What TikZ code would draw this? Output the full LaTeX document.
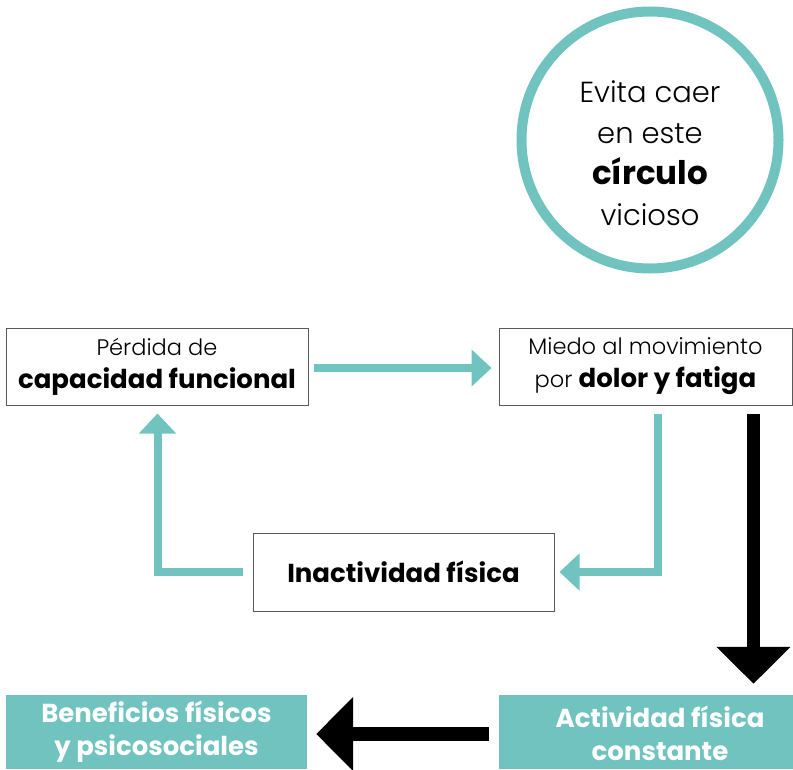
\documentclass[tikz,border=0pt]{standalone}
\usepackage{fontspec}
\setmainfont{Poppins}[UprightFont={* Light},BoldFont={* Bold}]
\usetikzlibrary{arrows.meta}
\definecolor{teal1}{HTML}{70C3BF}
\newcommand{\hvy}[1]{{\bfseries\fontsize{26}{33}\selectfont #1}}
\begin{document}
\begin{tikzpicture}[x=1pt,y=-1pt,
  plainbox/.style={draw=black!65, line width=1pt, fill=white, inner sep=0pt, align=center, font=\fontsize{22.5}{33}\selectfont},
  tealbox/.style={fill=teal1, inner sep=0pt, text=white, align=center, font=\bfseries\fontsize{26}{33}\selectfont},
  tealarrow/.style={draw=teal1, line width=8pt, line join=miter, -{Triangle[width=36pt,length=20pt]}},
  blackarrow/.style={draw=black, line width=13.5pt, -{Triangle[width=72pt,length=37pt]}},
]
\useasboundingbox (0,0) rectangle (793,769);
% circle
\node[circle, draw=teal1, line width=10pt, minimum size=257pt, inner sep=0pt] (circ) at (650,140) {};
\node[align=center, font=\fontsize{29}{41}\selectfont] (ctext) at (650,153) {Evita caer\\en este\\{\bfseries\fontsize{32.5}{41}\selectfont círculo}\\vicioso};
% boxes
\node[plainbox, minimum width=302pt, minimum height=77pt] (b1) at (157,366.5) {Pérdida de\\\hvy{capacidad funcional}};
\node[plainbox, minimum width=293pt, minimum height=77pt] (b2) at (645.5,366.5) {Miedo al movimiento\\por \hvy{dolor y fatiga}};
\node[plainbox, minimum width=301pt, minimum height=78pt] (b3) at (403.5,572) {\hvy{Inactividad física}};
\node[tealbox, minimum width=294pt, minimum height=74pt] (act) at (646,732) {};
\node[tealbox, anchor=center] (acttext) at (660,733) {Actividad física\\constante};
\node[tealbox, minimum width=301pt, minimum height=74pt] (ben) at (156.5,732) {Beneficios físicos\\y psicosociales};
% arrows
\draw[tealarrow] ([xshift=5pt,yshift=-1.5pt]b1.east) -- ([xshift=-7pt,yshift=-1.5pt]b2.west);
\draw[tealarrow] ([xshift=-10pt]b3.west) -| ([xshift=0.5pt,yshift=-8pt]b1.south);
\draw[tealarrow] ([xshift=12pt,yshift=-8pt]b2.south) |- ([xshift=5pt]b3.east);
\coordinate (bs) at ([xshift=108pt,yshift=-8pt]b2.south);
\draw[blackarrow, shorten >=11pt] (bs) -- (bs |- act.north);
\draw[blackarrow] ([xshift=-10pt,yshift=-2pt]act.west) -- ([xshift=9pt,yshift=-2pt]ben.east);
\end{tikzpicture}
\end{document}
